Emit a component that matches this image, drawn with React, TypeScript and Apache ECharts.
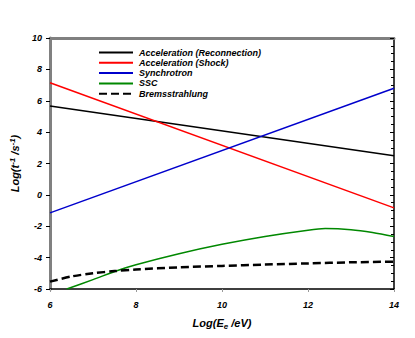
import React, { useEffect, useRef } from "react";
import * as echarts from "echarts";

const seriesNames = [
  "Acceleration (Reconnection)",
  "Acceleration (Shock)",
  "Synchrotron",
  "SSC",
  "Bremsstrahlung",
];
const reconnection: [number, number][] = [[6, 5.67], [14, 2.5]];
const shock: [number, number][] = [[6, 7.15], [14, -0.83]];
const synchrotron: [number, number][] = [[6, -1.15], [14, 6.8]];
const ssc: [number, number][] = [
  [6.39, -6], [7, -5.4], [7.59, -4.8], [8, -4.45], [9, -3.75], [10, -3.15],
  [11, -2.65], [12, -2.25], [12.4, -2.15], [13, -2.22], [13.5, -2.4], [14, -2.66],
];
const brems: [number, number][] = [
  [6, -5.53], [6.5, -5.2], [7, -5.0], [7.5, -4.86], [8, -4.76], [9, -4.62],
  [10, -4.53], [11, -4.44], [12, -4.37], [13, -4.3], [14, -4.26],
];
const colors = ["#000000", "#ff0000", "#0000cc", "#008800", "#000000"];

const FONT = "Liberation Sans";

export default function App() {
  const ref = useRef<HTMLDivElement>(null);
  useEffect(() => {
    if (!ref.current) return;
    const chart = echarts.init(ref.current, undefined, { renderer: "svg" });
    const datasets = [reconnection, shock, synchrotron, ssc, brems];
    chart.setOption({
      animation: false,
      textStyle: { fontFamily: FONT },
      grid: { left: 46, right: 21, top: 38, bottom: 49 },
      legend: {
        orient: "vertical",
        left: 93,
        top: 43,
        itemWidth: 34,
        itemHeight: 10,
        itemGap: 1.3,
        data: seriesNames,
        itemStyle: { opacity: 0 },
        textStyle: {
          fontFamily: FONT,
          fontSize: 9,
          fontWeight: "bold",
          fontStyle: "italic",
          color: "#000",
          padding: [0, 0, 0, 1],
        },
      },
      xAxis: [
        {
          type: "value",
          min: 6,
          max: 14,
          interval: 2,
          position: "bottom",
          name: "{a|Log(E}{s|e}{a| /eV)}",
          nameLocation: "middle",
          nameGap: 27,
          nameTextStyle: {
            rich: {
              a: { fontFamily: FONT, fontSize: 11, fontWeight: "bold", fontStyle: "italic", color: "#000" },
              s: { fontFamily: FONT, fontSize: 8, fontWeight: "bold", fontStyle: "italic", color: "#000", verticalAlign: "top", padding: [6, 0, 0, 0] },
            },
          },
          axisLine: { onZero: false, lineStyle: { color: "#000", width: 1.5 } },
          axisTick: { show: true, length: 3, lineStyle: { color: "#999" } },
          axisLabel: { fontFamily: FONT, fontSize: 9, fontWeight: "bold", fontStyle: "italic", color: "#000", margin: 11 },
          splitLine: { show: false },
        },
        {
          type: "value",
          min: 6,
          max: 14,
          interval: 2,
          position: "top",
          axisLine: { onZero: false, lineStyle: { color: "#808080", width: 3 } },
          axisTick: { show: false },
          axisLabel: { show: false },
          splitLine: { show: false },
        },
      ],
      yAxis: [
        {
          type: "value",
          min: -6,
          max: 10,
          interval: 2,
          position: "left",
          name: "{a|Log(t}{s|-1}{a| /s}{s|-1}{a|)}",
          nameLocation: "middle",
          nameGap: 28,
          nameTextStyle: {
            rich: {
              a: { fontFamily: FONT, fontSize: 11, fontWeight: "bold", fontStyle: "italic", color: "#000" },
              s: { fontFamily: FONT, fontSize: 8, fontWeight: "bold", fontStyle: "italic", color: "#000", verticalAlign: "bottom", padding: [0, 0, 6, 0] },
            },
          },
          axisLine: { onZero: false, lineStyle: { color: "#808080", width: 3 } },
          axisTick: { show: true, length: 4, lineStyle: { color: "#000" } },
          axisLabel: { fontFamily: FONT, fontSize: 9, fontWeight: "bold", fontStyle: "italic", color: "#000", margin: 8 },
          splitLine: { show: false },
        },
        {
          type: "value",
          min: -6,
          max: 10,
          interval: 2,
          position: "right",
          axisLine: { onZero: false, lineStyle: { color: "#000", width: 1.5 } },
          axisTick: { show: true, inside: true, length: 4, lineStyle: { color: "#000" } },
          minorTick: { show: true, splitNumber: 4, length: 3, lineStyle: { color: "#000" } },
          axisLabel: { show: false },
          splitLine: { show: false },
        },
      ],
      series: datasets.map((d, i) => ({
        name: seriesNames[i],
        type: "line",
        data: d,
        smooth: i >= 3 ? 0.3 : false,
        showSymbol: false,
        symbol: "none",
        color: colors[i],
        clip: true,
        lineStyle: {
          color: colors[i],
          width: i === 4 ? 2.5 : 1.5,
          type: i === 4 ? [8, 4] : "solid",
        },
      })),
    });
    return () => chart.dispose();
  }, []);
  return <div ref={ref} style={{ width: 415, height: 338, margin: -8 }} />;
}
